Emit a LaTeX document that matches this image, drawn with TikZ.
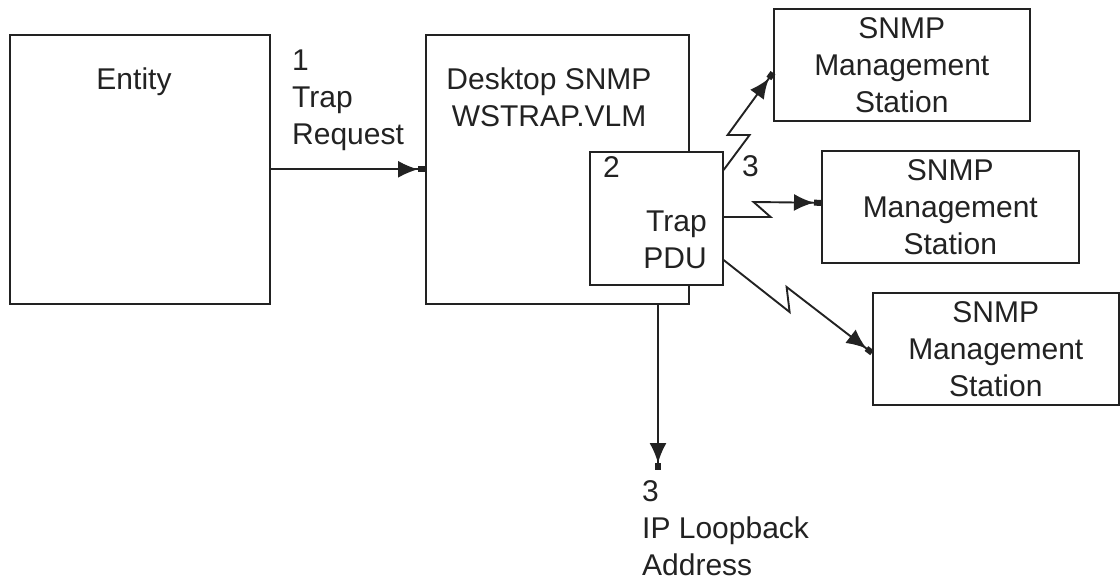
\documentclass[tikz,border=0pt]{standalone}
\usepackage{fontspec}
\setmainfont{Liberation Sans}
\usetikzlibrary{arrows.meta,calc}
\definecolor{ink}{HTML}{222222}
\begin{document}
\begin{tikzpicture}[x=1pt,y=-1pt,
  box/.style={draw=ink, line width=1.6pt, inner sep=0pt, anchor=north west},
  lbl/.style={inner sep=0pt, font=\fontsize{30}{37}\selectfont, text=ink},
  arr/.style={draw=ink, line width=1.6pt, -{Latex[length=20pt 0 0,width=17pt 0 0]Rectangle[length=7pt 0 0,width=6pt 0 0]}},
  bolt/.style={arr, line width=1.9pt, line join=miter}
]
\useasboundingbox (0,0) rectangle (1120,580);

% boxes
\node[box, minimum width=260, minimum height=269] (entity) at (9,34) {};
\node[box, minimum width=263, minimum height=269] (desk) at (425,34) {};
\node[box, fill=white, minimum width=133, minimum height=133] (pdu) at (589,151) {};
\node[box, lbl, draw=ink, minimum width=256, minimum height=112, align=center] (s1) at (773,8) {SNMP\\Management\\Station};
\node[box, lbl, draw=ink, minimum width=257, minimum height=112, align=center] (s2) at (821,150) {SNMP\\Management\\Station};
\node[box, lbl, draw=ink, minimum width=246, minimum height=112, align=center] (s3) at (872,292) {SNMP\\Management\\Station};

% labels
\node[lbl, anchor=base] (tentity) at (134,90) {Entity};
\node[lbl, anchor=north west, align=left] (treq) at (292,50) {1\\Trap\\Request};
\node[lbl, anchor=north, align=center] (tdesk) at (549,68) {Desktop SNMP\\WSTRAP.VLM};
\node[lbl, anchor=base west] (ttwo) at (603,178) {2};
\node[lbl, anchor=north east, align=right] (tpdu) at (707,211) {Trap\\PDU};
\node[lbl, anchor=base west] (tthree) at (742,177) {3};
\node[lbl, anchor=north west, align=left] (tloop) at (642,480) {3\\IP Loopback\\Address};

% connectors
\coordinate (loop) at (658,470);
\draw[arr] (entity.east) -- (desk.west);
\draw[bolt] ($(pdu.north east)+(0,19)$) -- ++(26,-35) -- ++(-22,0) -- ($(s1.west)+(0,8)$);
\draw[bolt] ($(pdu.north east)+(0,66)$) -- ++(47,0) -- ++(-17,-15) -- ($(s2.west)+(0,-4)$);
\draw[bolt] ($(pdu.north east)+(0,109)$) -- ++(66,52) -- ++(-3,-25) -- ($(s3.west)+(0,4)$);
\draw[arr] (desk.south -| loop) -- (loop);
\end{tikzpicture}
\end{document}
